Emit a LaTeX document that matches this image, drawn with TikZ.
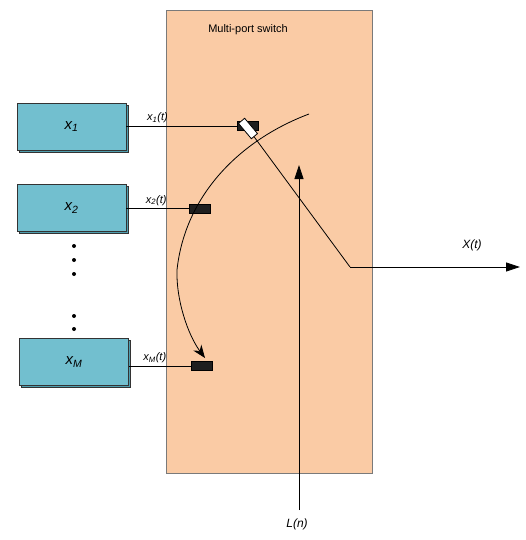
\documentclass[tikz,border=0pt]{standalone}
\usepackage{fontspec}
\setmainfont{Liberation Sans}
\usetikzlibrary{arrows.meta,shadows,positioning}

\definecolor{peach}{HTML}{FACBA5}
\definecolor{teal1}{HTML}{72BFCF}
\definecolor{teal2}{HTML}{4F9DAE}
\definecolor{edgegray}{HTML}{7A7A7A}

\begin{document}
\begin{tikzpicture}[x=1pt,y=-1pt,>={Triangle[length=14pt,width=9pt]},line width=0.8pt,
  src/.style={draw=black!80,fill=teal1,minimum width=109pt,minimum height=47pt,
    inner sep=0pt,font=\fontsize{15}{17}\selectfont\itshape,
    copy shadow={shadow xshift=2pt,shadow yshift=-2pt,fill=teal2,draw=black!80}},
  port/.style={draw=black,fill=black!88,minimum width=21pt,minimum height=9pt,inner sep=0pt},
  sel/.style={draw=black,fill=white,minimum width=20pt,minimum height=8pt,inner sep=0pt,rotate=-50},
  lab/.style={font=\fontsize{11}{13}\selectfont\itshape,inner sep=2.5pt}]

\useasboundingbox (0,0) rectangle (525,540);

\node[draw=edgegray,fill=peach,minimum width=206pt,minimum height=463pt,inner sep=0pt] (sw) at(269,241.5) {};
\node[font=\fontsize{11}{13}\selectfont] (swl) at(248,30) {Multi-port switch};

\node[src] (1) at(71.5,126.5) {x\textsubscript{1}};
\node[src] (2) at(71.5,208) {x\textsubscript{2}};
\node[src] (M) at(74,362) {x\textsubscript{M}};

\foreach \y in {246,260,274,316,329}
  \fill (74,\y) circle (2pt);

\node[port] (p1) at(248,126) {};
\node[sel] (s1) at(248,128.5) {};
\node[port] (p2) at(199.5,208.5) {};
\node[port] (pM) at(201.5,366) {};

\coordinate (turn) at(350,267);
\coordinate (out) at(520,267);
\coordinate (lbot) at(299,510);
\coordinate (ltop) at(299,165);
\coordinate (arcA) at(309,114);
\coordinate (arcB) at(177,270);
\coordinate (arcC) at(205,358);

\draw
(p1 -| 1.east) -- node[lab,above,pos=0.28]{x\textsubscript{1}(t)} (p1)
(p2 -| 2.east) -- node[lab,above,pos=0.48]{x\textsubscript{2}(t)} (p2)
(pM -| M.east) -- node[lab,above,pos=0.42]{x\textsubscript{M}(t)} (pM)
;

\draw (s1) -- (turn);
\draw[->] (turn) -- (out);
\node[lab,font=\fontsize{12}{14}\selectfont\itshape] (xt) at(472,245) {X(t)};

\draw[->] (lbot) -- (ltop);
\node[lab,font=\fontsize{12}{14}\selectfont\itshape] (ln) at(297,524) {L(n)};

\draw[-{Stealth[length=13pt,width=10pt]}]
(arcA) .. controls (240,140) and (185,195) .. (arcB)
       .. controls (176,300) and (188,335) .. (arcC);

\end{tikzpicture}
\end{document}
